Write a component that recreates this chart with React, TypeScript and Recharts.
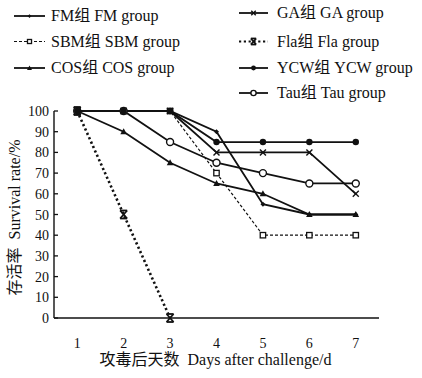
import React from 'react';
import { LineChart, Line, XAxis, YAxis } from 'recharts';

const days = [1, 2, 3, 4, 5, 6, 7];
const fm = [100, 100, 100, 90, 55, 50, 50];
const sbm = [100, 100, 100, 70, 40, 40, 40];
const cos = [100, 90, 75, 65, 60, 50, 50];
const ga = [100, 100, 100, 80, 80, 80, 60];
const fla: (number | null)[] = [100, 50, 0, null, null, null, null];
const ycw = [100, 100, 100, 85, 85, 85, 85];
const tau = [100, 100, 85, 75, 70, 65, 65];
const yTicks = [0, 10, 20, 30, 40, 50, 60, 70, 80, 90, 100];

const legendLeft = [
  { key: 'fm', label: 'FM组 FM group' },
  { key: 'sbm', label: 'SBM组 SBM group' },
  { key: 'cos', label: 'COS组 COS group' },
];
const legendRight = [
  { key: 'ga', label: 'GA组 GA group' },
  { key: 'fla', label: 'Fla组 Fla group' },
  { key: 'ycw', label: 'YCW组 YCW group' },
  { key: 'tau', label: 'Tau组 Tau group' },
];

const xLabel = '攻毒后天数\u00a0\u00a0Days after challenge/d';
const yLabel = '存活率\u00a0\u00a0Survival rate/%';

const data = days.map((d, i) => ({
  day: d,
  fm: fm[i],
  sbm: sbm[i],
  cos: cos[i],
  ga: ga[i],
  fla: fla[i],
  ycw: ycw[i],
  tau: tau[i],
}));

const INK = '#111';
const FONT = '"Liberation Serif", "Times New Roman", "Noto Sans CJK SC", serif';

const Marker = ({ kind, cx, cy, s = 1 }: { kind: string; cx: number; cy: number; s?: number }) => {
  if (cx == null || cy == null || isNaN(cx) || isNaN(cy)) return null;
  switch (kind) {
    case 'fm': {
      const a = 2.5 * s;
      return <path d={`M${cx},${cy - a}L${cx + a},${cy}L${cx},${cy + a}L${cx - a},${cy}Z`} fill={INK} />;
    }
    case 'sbm': {
      const a = 2.7 * s;
      return <rect x={cx - a} y={cy - a} width={2 * a} height={2 * a} fill="#fff" stroke={INK} strokeWidth={1.3} />;
    }
    case 'cos':
      return <path d={`M${cx},${cy - 3.5 * s}L${cx + 3.3 * s},${cy + 2.5 * s}L${cx - 3.3 * s},${cy + 2.5 * s}Z`} fill={INK} />;
    case 'ga': {
      const a = 3 * s;
      return (
        <g stroke={INK} strokeWidth={1.4}>
          <line x1={cx - a} y1={cy - a} x2={cx + a} y2={cy + a} />
          <line x1={cx - a} y1={cy + a} x2={cx + a} y2={cy - a} />
        </g>
      );
    }
    case 'fla': {
      const a = 3.5 * s;
      const b = 4 * s;
      return (
        <g stroke={INK} strokeWidth={1.8}>
          <line x1={cx - a} y1={cy - b} x2={cx + a} y2={cy + b} />
          <line x1={cx - a} y1={cy + b} x2={cx + a} y2={cy - b} />
          <line x1={cx - a} y1={cy - b} x2={cx + a} y2={cy - b} />
          <line x1={cx - a} y1={cy + b} x2={cx + a} y2={cy + b} />
        </g>
      );
    }
    case 'ycw':
      return <circle cx={cx} cy={cy} r={3.2 * s} fill={INK} />;
    case 'tau':
      return <circle cx={cx} cy={cy} r={3.5 * s} fill="#fff" stroke={INK} strokeWidth={1.4} />;
    default:
      return null;
  }
};

const lineStyle: Record<string, { w: number; dash?: string }> = {
  fm: { w: 1.8 },
  sbm: { w: 1.2, dash: '3 2' },
  cos: { w: 1.8 },
  ga: { w: 1.8 },
  fla: { w: 2.6, dash: '2.2 2.6' },
  ycw: { w: 1.8 },
  tau: { w: 1.8 },
};

const YTick = (props: any) => {
  const { x, y, payload } = props;
  return (
    <g>
      <line x1={x} y1={y} x2={x + 4} y2={y} stroke={INK} strokeWidth={1.3} />
      <text x={x - 5} y={y} dy={5} textAnchor="end" fontSize={14} fontFamily={FONT} fill={INK}>
        {payload.value}
      </text>
    </g>
  );
};

const XTick = (props: any) => {
  const { x, y, payload } = props;
  return (
    <text x={x} y={y} dy={22} textAnchor="middle" fontSize={14} fontFamily={FONT} fill={INK}>
      {payload.value}
    </text>
  );
};

const YLabel = (props: any) => {
  const vb = props.viewBox || {};
  const cy = (vb.y ?? 111) + (vb.height ?? 207) / 2 + 3;
  const cx = 14;
  return (
    <text
      x={cx}
      y={cy}
      transform={`rotate(-90 ${cx} ${cy})`}
      textAnchor="middle"
      dominantBaseline="central"
      fontSize={16}
      fontFamily={FONT}
      fill={INK}
    >
      {yLabel}
    </text>
  );
};

const XLabel = (props: any) => {
  const vb = props.viewBox || {};
  const cx = (vb.x ?? 54) + (vb.width ?? 325) / 2 - 1;
  return (
    <text x={cx} y={365} textAnchor="middle" fontSize={16} fontFamily={FONT} fill={INK}>
      {xLabel}
    </text>
  );
};

const LegendRow = ({ k, label, x, y, lineLen, textX }: any) => {
  const st = lineStyle[k];
  return (
    <g>
      <line x1={x} y1={y} x2={x + lineLen} y2={y} stroke={INK} strokeWidth={k === 'fla' ? 2.2 : st.w} strokeDasharray={st.dash} />
      <Marker kind={k} cx={x + lineLen / 2} cy={y} s={0.75} />
      <text x={textX} y={y} dy={5} fontSize={16} fontFamily={FONT} fill={INK}>
        {label}
      </text>
    </g>
  );
};

const leftRowsY = [16, 41.5, 68];
const rightRowsY = [13, 41.5, 68, 93];

export default function App() {
  return (
    <div style={{ position: 'absolute', left: 0, top: 0, width: 422, height: 378, background: '#fff' }}>
      <svg width={422} height={110} style={{ position: 'absolute', left: 0, top: 0 }}>
        {legendLeft.map((l, i) => (
          <LegendRow key={l.key} k={l.key} label={l.label} x={14} y={leftRowsY[i]} lineLen={31} textX={51} />
        ))}
        {legendRight.map((l, i) => (
          <LegendRow key={l.key} k={l.key} label={l.label} x={239} y={rightRowsY[i]} lineLen={29} textX={277} />
        ))}
      </svg>
      <div style={{ position: 'absolute', left: 0, top: 0 }}>
        <LineChart width={422} height={378} data={data} margin={{ top: 111, right: 43, left: 0, bottom: 0 }}>
          <XAxis
            dataKey="day"
            type="number"
            domain={[0.5, 7.5]}
            ticks={days}
            height={60}
            tickLine={false}
            tick={<XTick />}
            axisLine={{ stroke: INK, strokeWidth: 1.4 }}
            label={<XLabel />}
          />
          <YAxis
            type="number"
            domain={[0, 100]}
            ticks={yTicks}
            width={54}
            tickSize={0}
            tickMargin={0}
            tickLine={false}
            tick={<YTick />}
            axisLine={{ stroke: INK, strokeWidth: 1.4 }}
            interval={0}
            label={<YLabel />}
          />
          {['fla', 'sbm', 'fm', 'cos', 'ga', 'tau', 'ycw'].map((k) => (
            <Line
              key={k}
              dataKey={k}
              type="linear"
              stroke={INK}
              strokeWidth={lineStyle[k].w}
              strokeDasharray={lineStyle[k].dash}
              isAnimationActive={false}
              connectNulls={false}
              dot={(p: any) => <Marker key={`${k}-${p.index}`} kind={k} cx={p.cx} cy={p.cy} />}
              activeDot={false}
            />
          ))}
        </LineChart>
      </div>
    </div>
  );
}
